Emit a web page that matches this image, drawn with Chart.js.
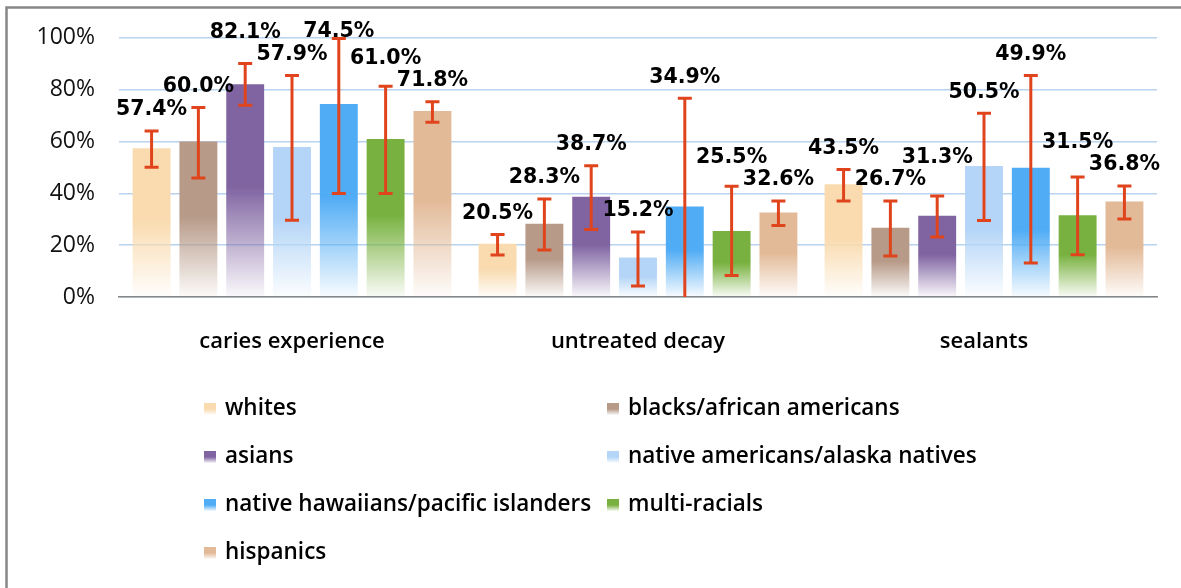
<!DOCTYPE html>
<html lang="en">
<head>
    <meta charset="UTF-8">
    <title>Dental health by group</title>
    <script src="https://cdn.jsdelivr.net/npm/chart.js"></script>
    <style>
        body { margin: 0; background: #fff; }
        .chart-box { position: relative; width: 1181px; height: 588px; }
    </style>
</head>
<body>
    <div class="chart-box">
        <canvas id="dentalChart"></canvas>
    </div>
    <script>
        // categorias y series
        const categories = ['caries experience', 'untreated decay', 'sealants'];
        const seriesNames = ['whites', 'blacks/african americans', 'asians', 'native americans/alaska natives',
            'native hawaiians/pacific islanders', 'multi-racials', 'hispanics'];
        const seriesColors = ['#f9dbaf', '#b79a88', '#8064a2', '#b4d5f7', '#50acf5', '#78b13f', '#e3ba98'];

        const whites = [57.4, 20.5, 43.5];
        const blacks = [60.0, 28.3, 26.7];
        const asians = [82.1, 38.7, 31.3];
        const nativeAmericans = [57.9, 15.2, 50.5];
        const nativeHawaiians = [74.5, 34.9, 49.9];
        const multiRacials = [61.0, 25.5, 31.5];
        const hispanics = [71.8, 32.6, 36.8];

        // intervalos de error (bajo / alto)
        const whitesLow = [50.1, 16.2, 37.0];
        const whitesHigh = [64.0, 24.1, 49.2];
        const blacksLow = [45.9, 18.1, 15.8];
        const blacksHigh = [73.1, 37.8, 37.0];
        const asiansLow = [74.0, 26.0, 23.1];
        const asiansHigh = [90.1, 50.6, 39.0];
        const nativeAmericansLow = [29.6, 4.2, 29.5];
        const nativeAmericansHigh = [85.5, 25.1, 70.9];
        const nativeHawaiiansLow = [39.9, -6.9, 13.1];
        const nativeHawaiiansHigh = [99.7, 76.7, 85.5];
        const multiRacialsLow = [39.9, 8.3, 16.3];
        const multiRacialsHigh = [81.3, 42.7, 46.3];
        const hispanicsLow = [67.4, 27.6, 30.1];
        const hispanicsHigh = [75.3, 37.0, 42.8];

        const yTicks = [0, 20, 40, 60, 80, 100];

        const seriesValues = [whites, blacks, asians, nativeAmericans, nativeHawaiians, multiRacials, hispanics];
        const seriesLow = [whitesLow, blacksLow, asiansLow, nativeAmericansLow, nativeHawaiiansLow, multiRacialsLow, hispanicsLow];
        const seriesHigh = [whitesHigh, blacksHigh, asiansHigh, nativeAmericansHigh, nativeHawaiiansHigh, multiRacialsHigh, hispanicsHigh];

        const ERR_COLOR = '#e0441c';
        const LABEL_H = 21;
        const LABEL_GAP = 21;
        const LABEL_MIN_Y = 32;

        function hexToRgba(hex, a) {
            const n = parseInt(hex.slice(1), 16);
            return `rgba(${(n >> 16) & 255},${(n >> 8) & 255},${n & 255},${a})`;
        }

        // degradado vertical por barra: color arriba, casi blanco abajo
        function barGradient(context, color) {
            const chart = context.chart;
            const yScale = chart.scales.y;
            if (!chart.chartArea || !yScale || context.type !== 'data') return color;
            const top = yScale.getPixelForValue(context.raw);
            const bottom = yScale.getPixelForValue(0);
            if (!isFinite(top) || !isFinite(bottom) || bottom - top < 1) return color;
            const g = chart.ctx.createLinearGradient(0, top, 0, bottom);
            g.addColorStop(0, color);
            g.addColorStop(0.48, color);
            g.addColorStop(1, hexToRgba(color, 0.04));
            return g;
        }

        function legendGradient(ctx, color, top, h) {
            const g = ctx.createLinearGradient(0, top, 0, top + h);
            g.addColorStop(0, color);
            g.addColorStop(0.5, color);
            g.addColorStop(1, hexToRgba(color, 0.05));
            return g;
        }

        function overlaps(a, b) {
            return Math.abs(a.x - b.x) < (a.w + b.w) / 2 && Math.abs(a.y - b.y) < LABEL_H;
        }

        // coloca las etiquetas evitando que se pisen
        function placeLabels(labels) {
            const placed = [];
            labels.forEach(lab => {
                let guard = 0;
                let hit = placed.find(p => overlaps(p, lab));
                while (hit && guard++ < 10) {
                    const upY = lab.y - LABEL_H - 1;
                    const moved = { ...hit, y: upY };
                    const free = upY >= LABEL_MIN_Y && !placed.some(p => p !== hit && overlaps(p, moved));
                    if (free) {
                        hit.y = upY;
                    } else {
                        lab.y = hit.y - LABEL_H - 1;
                        if (lab.y < LABEL_MIN_Y) lab.y = hit.y + LABEL_H + 1;
                    }
                    hit = placed.find(p => overlaps(p, lab));
                }
                placed.push(lab);
            });
            return placed;
        }

        const framePlugin = {
            id: 'frame',
            beforeDraw(chart) {
                const ctx = chart.ctx;
                ctx.save();
                ctx.fillStyle = '#fff';
                ctx.fillRect(0, 0, chart.width, chart.height);
                ctx.strokeStyle = '#878787';
                ctx.lineWidth = 2.5;
                ctx.beginPath();
                ctx.moveTo(6.5, chart.height);
                ctx.lineTo(6.5, 7.5);
                ctx.lineTo(chart.width, 7.5);
                ctx.stroke();
                ctx.restore();
            }
        };

        const errorBarsPlugin = {
            id: 'errorBars',
            afterDatasetsDraw(chart) {
                const ctx = chart.ctx;
                const yScale = chart.scales.y;
                const area = chart.chartArea;
                ctx.save();
                ctx.beginPath();
                ctx.rect(area.left, area.top - 4, area.right - area.left, area.bottom - area.top + 4);
                ctx.clip();
                ctx.strokeStyle = ERR_COLOR;
                ctx.lineWidth = 3;
                chart.data.datasets.forEach((ds, di) => {
                    const meta = chart.getDatasetMeta(di);
                    meta.data.forEach((bar, i) => {
                        const x = bar.x;
                        const yHi = yScale.getPixelForValue(seriesHigh[di][i]);
                        const yLo = yScale.getPixelForValue(seriesLow[di][i]);
                        ctx.beginPath();
                        ctx.moveTo(x, yHi);
                        ctx.lineTo(x, yLo);
                        ctx.moveTo(x - 7, yHi);
                        ctx.lineTo(x + 7, yHi);
                        ctx.moveTo(x - 7, yLo);
                        ctx.lineTo(x + 7, yLo);
                        ctx.stroke();
                    });
                });
                ctx.restore();

                // etiquetas de valor
                ctx.save();
                ctx.font = 'bold 20.5px "DejaVu Sans"';
                ctx.fillStyle = '#000';
                ctx.textAlign = 'center';
                ctx.textBaseline = 'middle';
                categories.forEach((cat, i) => {
                    const labels = chart.data.datasets.map((ds, di) => {
                        const bar = chart.getDatasetMeta(di).data[i];
                        const text = ds.data[i].toFixed(1) + '%';
                        const yHi = yScale.getPixelForValue(seriesHigh[di][i]);
                        const y = Math.max(Math.min(yHi, bar.y) - LABEL_GAP, LABEL_MIN_Y);
                        return { text, x: bar.x, y, w: ctx.measureText(text).width };
                    });
                    placeLabels(labels).forEach(l => ctx.fillText(l.text, l.x, l.y));
                });
                ctx.restore();
            }
        };

        const gridLegendPlugin = {
            id: 'gridLegend',
            afterDraw(chart) {
                const ctx = chart.ctx;
                const colX = [204, 607];
                const rowY = [409, 457, 505, 553];
                ctx.save();
                ctx.font = '600 22.5px "Open Sans"';
                ctx.textBaseline = 'middle';
                chart.data.datasets.forEach((ds, di) => {
                    const x = colX[di % 2];
                    const y = rowY[Math.floor(di / 2)];
                    ctx.fillStyle = legendGradient(ctx, seriesColors[di], y - 6, 12);
                    ctx.fillRect(x, y - 6, 12, 12);
                    ctx.fillStyle = '#000';
                    ctx.fillText(ds.label, x + 21, y);
                });
                ctx.restore();
            }
        };

        const datasets = seriesNames.map((name, i) => ({
            label: name,
            data: seriesValues[i],
            backgroundColor: ctx => barGradient(ctx, seriesColors[i]),
            borderWidth: 0,
            categoryPercentage: 0.947,
            barPercentage: 0.81
        }));

        new Chart(document.getElementById('dentalChart'), {
            type: 'bar',
            data: { labels: categories, datasets: datasets },
            plugins: [framePlugin, errorBarsPlugin, gridLegendPlugin],
            options: {
                responsive: true,
                maintainAspectRatio: false,
                animation: false,
                layout: { padding: { left: 0, top: 37, right: 24, bottom: 211 } },
                plugins: {
                    legend: { display: false },
                    tooltip: { enabled: false }
                },
                scales: {
                    x: {
                        grid: { display: false, drawTicks: false },
                        border: { display: true, color: '#868686', width: 1.5 },
                        ticks: {
                            padding: 32,
                            color: '#000',
                            font: { family: '"Open Sans"', size: 22, weight: '600' }
                        },
                        afterFit(scale) { scale.height = 80; }
                    },
                    y: {
                        min: 0,
                        max: 100,
                        afterBuildTicks(scale) { scale.ticks = yTicks.map(v => ({ value: v })); },
                        grid: { color: '#b7d3f0', lineWidth: 1.5, drawTicks: false },
                        border: { display: false },
                        ticks: {
                            padding: 24,
                            color: '#111',
                            font: { family: '"Open Sans"', size: 23 },
                            callback: v => v + '%'
                        },
                        afterFit(scale) { scale.width = 119; }
                    }
                }
            }
        });
    </script>
</body>
</html>
